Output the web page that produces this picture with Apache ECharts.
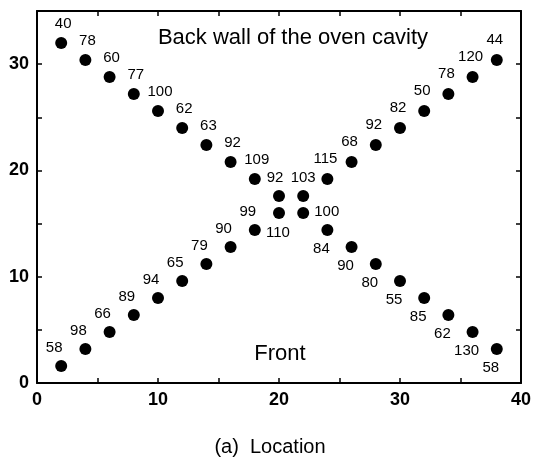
<!DOCTYPE html>
<html>
<head>
<meta charset="utf-8">
<script src="https://cdn.jsdelivr.net/npm/echarts@6/dist/echarts.min.js"></script>
<style>html,body{margin:0;padding:0;background:#fff}#c{width:534px;height:461px}</style>
</head>
<body>
<div id="c"></div>
<script>
// Location along the diagonals (x) and the heights (y) of the two rows of points
const xs = [2, 4, 6, 8, 10, 12, 14, 16, 18, 20, 22, 24, 26, 28, 30, 32, 34, 36, 38];
const descY = [32, 30.4, 28.8, 27.2, 25.6, 24, 22.4, 20.8, 19.2, 17.6, 16, 14.4, 12.8, 11.2, 9.6, 8, 6.4, 4.8, 3.2];
const descValues = [40, 78, 60, 77, 100, 62, 63, 92, 109, 92, 100, 84, 90, 80, 55, 85, 62, 130, 58];
const ascY = [1.6, 3.2, 4.8, 6.4, 8, 9.6, 11.2, 12.8, 14.4, 16, 17.6, 19.2, 20.8, 22.4, 24, 25.6, 27.2, 28.8, 30.4];
const ascValues = [58, 98, 66, 89, 94, 65, 79, 90, 99, 110, 103, 115, 68, 92, 82, 50, 78, 120, 44];
const xTicks = [0, 10, 20, 30, 40];
const yTicks = [0, 10, 20, 30];
const annotations = ['Back wall of the oven cavity', 'Front', '(a)  Location'];

const FONT = '"Liberation Sans", Arial, sans-serif';

function descLabel(i) {
  if (i === 9) return { position: 'top', distance: 5, offset: [-4, 0] };
  if (i === 10) return { position: 'right', distance: 5, offset: [0, -1] };
  if (i < 9) return { position: 'top', distance: 6, offset: [2, 0] };
  return { position: 'bottom', distance: 5, offset: [-6, 0] };
}
function ascLabel(i) {
  if (i === 9) return { position: 'bottom', distance: 6, offset: [-1, 0] };
  if (i === 10) return { position: 'top', distance: 5, offset: [0, 0] };
  if (i < 9) return { position: 'top', distance: 5, offset: [-7, 0] };
  return { position: 'top', distance: 7, offset: [-2, 0] };
}

function build(ys, vals, labelFn) {
  return xs.map((x, i) => ({
    value: [x, ys[i], vals[i]],
    label: labelFn(i)
  }));
}

const axisLine = { show: true, onZero: false, lineStyle: { color: '#000', width: 2 } };
const axisTick = { show: true, inside: true, length: 5, lineStyle: { color: '#000', width: 1.5 } };
const tickLabel = (list) => ({
  fontFamily: FONT, fontWeight: 'bold', fontSize: 18, color: '#000', margin: 8,
  formatter: v => (list.indexOf(v) >= 0 ? String(v) : '')
});
const pointLabel = { show: true, fontFamily: FONT, fontSize: 15, color: '#000', formatter: p => String(p.value[2]) };

const chart = echarts.init(document.getElementById('c'), null, { renderer: 'canvas' });
chart.setOption({
  animation: false,
  backgroundColor: '#fff',
  grid: { left: 37, right: 11, top: 11, bottom: 78 },
  xAxis: [
    { type: 'value', min: 0, max: 40, interval: 5, position: 'bottom',
      axisLine, axisTick, axisLabel: tickLabel(xTicks), splitLine: { show: false } },
    { type: 'value', min: 0, max: 40, interval: 5, position: 'top',
      axisLine, axisTick, axisLabel: { show: false }, splitLine: { show: false } }
  ],
  yAxis: [
    { type: 'value', min: 0, max: 35, interval: 5, position: 'left',
      axisLine, axisTick, axisLabel: tickLabel(yTicks), splitLine: { show: false } },
    { type: 'value', min: 0, max: 35, interval: 5, position: 'right',
      axisLine, axisTick, axisLabel: { show: false }, splitLine: { show: false } }
  ],
  series: [
    { type: 'scatter', xAxisIndex: 0, yAxisIndex: 0, symbol: 'circle', symbolSize: 12,
      itemStyle: { color: '#000', opacity: 1 },
      label: pointLabel,
      data: build(descY, descValues, descLabel) },
    { type: 'scatter', xAxisIndex: 0, yAxisIndex: 0, symbol: 'circle', symbolSize: 12,
      itemStyle: { color: '#000', opacity: 1 },
      label: pointLabel,
      data: build(ascY, ascValues, ascLabel) }
  ],
  graphic: [
    { type: 'text', x: 293, y: 38, style: { text: annotations[0], font: '22px ' + FONT, fill: '#000', textAlign: 'center', textVerticalAlign: 'middle' } },
    { type: 'text', x: 280, y: 354, style: { text: annotations[1], font: '22px ' + FONT, fill: '#000', textAlign: 'center', textVerticalAlign: 'middle' } },
    { type: 'text', x: 270, y: 447, style: { text: annotations[2], font: '20px ' + FONT, fill: '#000', textAlign: 'center', textVerticalAlign: 'middle' } }
  ]
});
</script>
</body>
</html>
